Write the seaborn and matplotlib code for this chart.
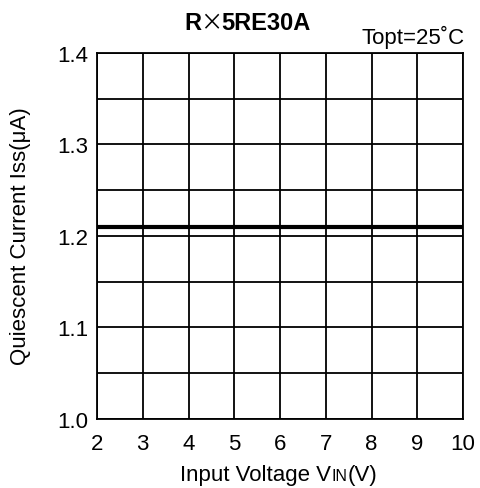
import matplotlib
matplotlib.use("Agg")
import matplotlib.pyplot as plt
import seaborn as sns
import pandas as pd

vin = [2, 10]
iss = [1.21, 1.21]
xticks = [2, 3, 4, 5, 6, 7, 8, 9, 10]
yticks = [1.0, 1.1, 1.2, 1.3, 1.4]
yticklabels = ["1.0", "1.1", "1.2", "1.3", "1.4"]

sns.set_theme(style="white")
plt.rcParams['font.family'] = ['Liberation Sans', 'DejaVu Sans']

df = pd.DataFrame({"vin": vin, "iss": iss})

W, H = 480, 489
fig = plt.figure(figsize=(W / 100, H / 100), dpi=100)
ax = fig.add_axes([97/W, 1-420/H, (463-97)/W, (420-54)/H])

sns.lineplot(data=df, x="vin", y="iss", ax=ax, color="black", linewidth=3)

ax.set_xlim(2, 10)
ax.set_ylim(1.0, 1.4)
ax.set_xticks(xticks)
ax.set_xticks([], minor=True)
ax.set_yticks(yticks)
ax.set_yticklabels(yticklabels)
ax.set_yticks([1.05, 1.15, 1.25, 1.35], minor=True)
ax.grid(True, which="both", color="black", linewidth=1.3)
ax.set_axisbelow(True)
ax.tick_params(axis="both", which="both", length=0, labelsize=16, colors="black")
ax.tick_params(axis="x", pad=10)
ax.tick_params(axis="y", pad=6.5)
for s in ax.spines.values():
    s.set_color("black")
    s.set_linewidth(1.3)

ax.set_xlabel("")
ax.set_ylabel("")

def fx(px):
    return px / W

def fy(py):
    return 1 - py / H

# y label
fig.text(fx(21), fy(236), "Quiescent Current Iss(μA)", fontsize=16, rotation=90,
         ha="center", va="center", color="black")

# x label with small subscript
t1 = fig.text(fx(180), fy(481), "Input Voltage V", fontsize=16, va="baseline", ha="left", color="black")
fig.canvas.draw()
r = fig.canvas.get_renderer()
bb = t1.get_window_extent(r)
t2 = fig.text(bb.x1 / W + 0.5 / W, fy(481), "IN", fontsize=11.5, va="baseline", ha="left", color="black")
fig.canvas.draw()
bb2 = t2.get_window_extent(r)
fig.text(bb2.x1 / W + 0.5 / W, fy(481), "(V)", fontsize=16, va="baseline", ha="left", color="black")

# title pieces
fig.text(fx(184), fy(30), "R", fontsize=17, fontweight="bold", ha="left", va="baseline", color="black")
fig.text(fx(211), fy(30), "×", fontsize=16, ha="center", va="baseline", color="black",
         family=["Noto Sans CJK JP", "DejaVu Sans"])
fig.text(fx(221), fy(30), "5RE30A", fontsize=17, fontweight="bold", ha="left", va="baseline", color="black")

fig.text(fx(465), fy(44), "Topt=25˚C", fontsize=16, ha="right", va="baseline", color="black")

fig.savefig("out.png", dpi=100, facecolor="white")
